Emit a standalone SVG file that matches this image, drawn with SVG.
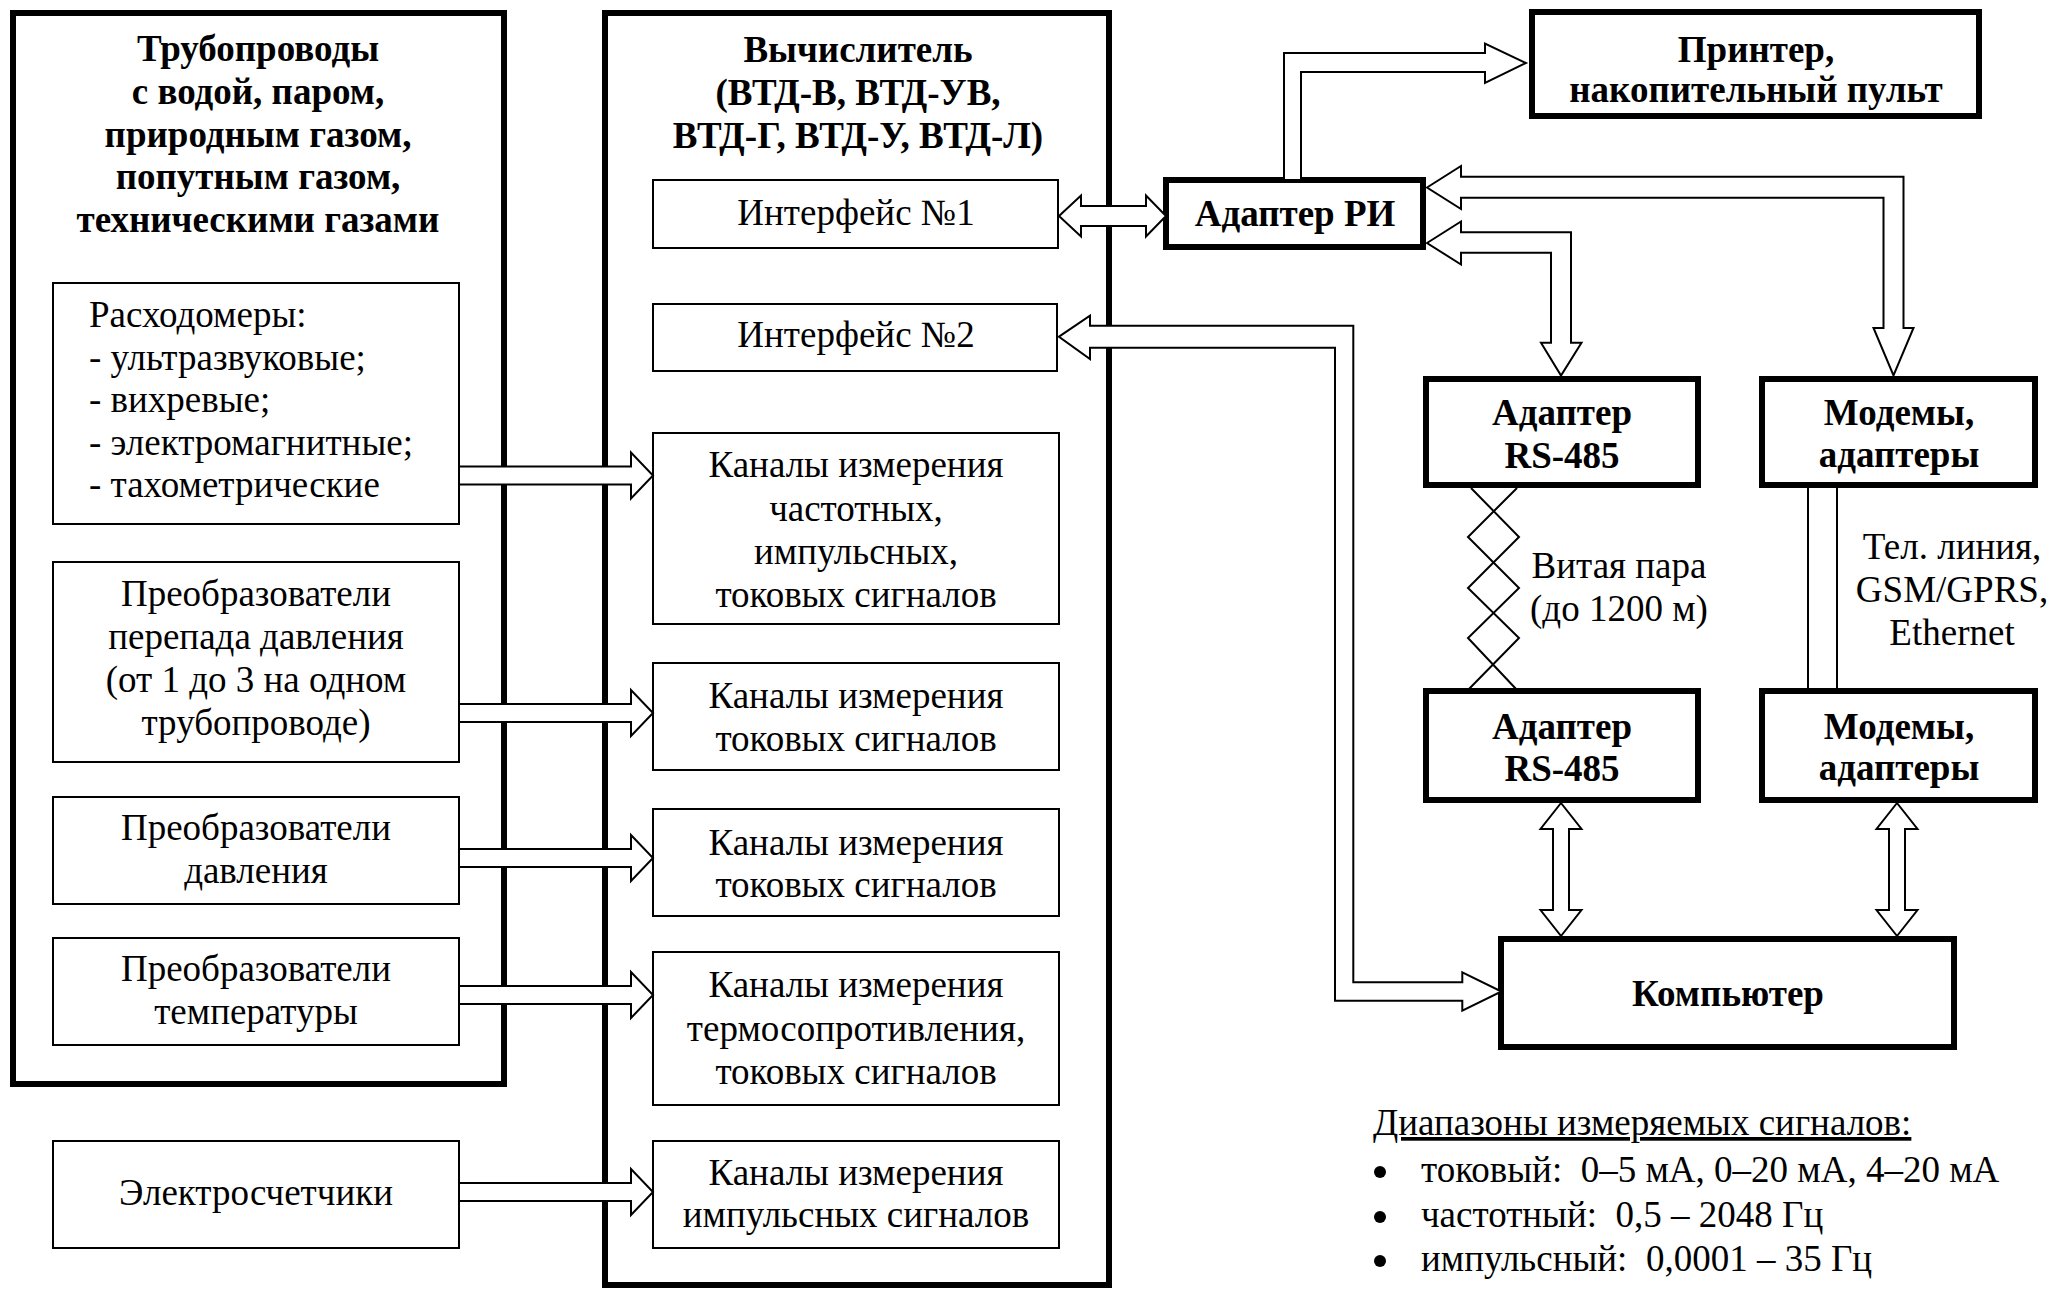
<svg xmlns="http://www.w3.org/2000/svg" width="2054" height="1289" viewBox="0 0 2054 1289">
<style>
.bg{fill:#fff}
.thick{fill:#fff;stroke:#000;stroke-width:6}
.thin{fill:#fff;stroke:#000;stroke-width:2}
.arrow{fill:#fff;stroke:#000;stroke-width:2;stroke-linejoin:miter}
.wire{fill:none;stroke:#000;stroke-width:2}
text{font-family:"Liberation Serif","Times New Roman",serif;font-size:37px;fill:#000}
.b{font-weight:bold}
.c{text-anchor:middle}
.pre{white-space:pre}
</style>
<rect class="bg" x="0" y="0" width="2054" height="1289"/>

<g id="pipelines">
<rect class="thick" x="13" y="13" width="491" height="1071"/>
<text class="b c" x="258" y="61">Трубопроводы</text>
<text class="b c" x="258" y="104">с водой, паром,</text>
<text class="b c" x="258" y="147">природным газом,</text>
<text class="b c" x="258" y="189">попутным газом,</text>
<text class="b c" x="258" y="232">техническими газами</text>
</g>

<g id="calculator">
<rect class="thick" x="605" y="13" width="504" height="1272"/>
<text class="b c" x="858" y="62">Вычислитель</text>
<text class="b c" x="858" y="105">(ВТД-В, ВТД-УВ,</text>
<text class="b c" x="858" y="148">ВТД-Г, ВТД-У, ВТД-Л)</text>
</g>

<g id="flowmeters">
<rect class="thin" x="53" y="283" width="406" height="241"/>
<text x="89" y="327">Расходомеры:</text>
<text x="89" y="370">- ультразвуковые;</text>
<text x="89" y="412">- вихревые;</text>
<text x="89" y="455">- электромагнитные;</text>
<text x="89" y="497">- тахометрические</text>
</g>

<g id="dp-transducers">
<rect class="thin" x="53" y="562" width="406" height="200"/>
<text class="c" x="256" y="606">Преобразователи</text>
<text class="c" x="256" y="649">перепада давления</text>
<text class="c" x="256" y="692">(от 1 до 3 на одном</text>
<text class="c" x="256" y="735">трубопроводе)</text>
</g>

<g id="p-transducers">
<rect class="thin" x="53" y="797" width="406" height="107"/>
<text class="c" x="256" y="840">Преобразователи</text>
<text class="c" x="256" y="883">давления</text>
</g>

<g id="t-transducers">
<rect class="thin" x="53" y="938" width="406" height="107"/>
<text class="c" x="256" y="981">Преобразователи</text>
<text class="c" x="256" y="1024">температуры</text>
</g>

<g id="electricity-meters">
<rect class="thin" x="53" y="1141" width="406" height="107"/>
<text class="c" x="256" y="1205">Электросчетчики</text>
</g>

<g id="interface1">
<rect class="thin" x="653" y="180" width="405" height="68"/>
<text class="c" x="856" y="225">Интерфейс №1</text>
</g>

<g id="interface2">
<rect class="thin" x="653" y="304" width="404" height="67"/>
<text class="c" x="856" y="347">Интерфейс №2</text>
</g>

<g id="ch-freq">
<rect class="thin" x="653" y="433" width="406" height="191"/>
<text class="c" x="856" y="477">Каналы измерения</text>
<text class="c" x="856" y="521">частотных,</text>
<text class="c" x="856" y="564">импульсных,</text>
<text class="c" x="856" y="607">токовых сигналов</text>
</g>

<g id="ch-current1">
<rect class="thin" x="653" y="663" width="406" height="107"/>
<text class="c" x="856" y="708">Каналы измерения</text>
<text class="c" x="856" y="751">токовых сигналов</text>
</g>

<g id="ch-current2">
<rect class="thin" x="653" y="809" width="406" height="107"/>
<text class="c" x="856" y="855">Каналы измерения</text>
<text class="c" x="856" y="897">токовых сигналов</text>
</g>

<g id="ch-rtd">
<rect class="thin" x="653" y="952" width="406" height="153"/>
<text class="c" x="856" y="997">Каналы измерения</text>
<text class="c" x="856" y="1041">термосопротивления,</text>
<text class="c" x="856" y="1084">токовых сигналов</text>
</g>

<g id="ch-pulse">
<rect class="thin" x="653" y="1141" width="406" height="107"/>
<text class="c" x="856" y="1185">Каналы измерения</text>
<text class="c" x="856" y="1227">импульсных сигналов</text>
</g>

<g id="adapter-ri">
<rect class="thick" x="1166" y="180" width="257" height="67"/>
<text class="b c" x="1295" y="226">Адаптер РИ</text>
</g>

<g id="printer">
<rect class="thick" x="1532" y="12" width="447" height="104"/>
<text class="b c" x="1756" y="62">Принтер,</text>
<text class="b c" x="1756" y="102">накопительный пульт</text>
</g>

<g id="rs485-top">
<rect class="thick" x="1426" y="379" width="272" height="106"/>
<text class="b c" x="1562" y="425">Адаптер</text>
<text class="b c" x="1562" y="468">RS-485</text>
</g>

<g id="modems-top">
<rect class="thick" x="1762" y="379" width="273" height="106"/>
<text class="b c" x="1899" y="425">Модемы,</text>
<text class="b c" x="1899" y="467">адаптеры</text>
</g>

<g id="rs485-bottom">
<rect class="thick" x="1426" y="691" width="272" height="109"/>
<text class="b c" x="1562" y="739">Адаптер</text>
<text class="b c" x="1562" y="781">RS-485</text>
</g>

<g id="modems-bottom">
<rect class="thick" x="1762" y="691" width="273" height="109"/>
<text class="b c" x="1899" y="739">Модемы,</text>
<text class="b c" x="1899" y="780">адаптеры</text>
</g>

<g id="computer">
<rect class="thick" x="1501" y="939" width="453" height="108"/>
<text class="b c" x="1728" y="1006">Компьютер</text>
</g>

<g id="connectors">
<polygon class="arrow" points="459,466.5 631,466.5 631,452.5 653,475.5 631,498.5 631,484.5 459,484.5"/>
<polygon class="arrow" points="459,704 631,704 631,690 653,713 631,736 631,722 459,722"/>
<polygon class="arrow" points="459,849 631,849 631,835 653,858 631,881 631,867 459,867"/>
<polygon class="arrow" points="459,986 631,986 631,972 653,995 631,1018 631,1004 459,1004"/>
<polygon class="arrow" points="459,1183 631,1183 631,1169 653,1192 631,1215 631,1201 459,1201"/>
<polygon class="arrow" points="1059,216 1081,195.5 1081,206 1146,206 1146,195.5 1166,216 1146,236.5 1146,226 1081,226 1081,236.5"/>
<polygon class="arrow" points="1284,180 1284,53 1485,53 1485,43.5 1526,63 1485,83 1485,72 1301,72 1301,180"/>
<polygon class="arrow" points="1427,187.5 1461,166 1461,176.7 1903.5,176.7 1903.5,328 1913.5,328 1893.5,375.5 1873.5,328 1883.5,328 1883.5,197.7 1461,197.7 1461,209"/>
<polygon class="arrow" points="1427,243 1461,221.5 1461,232.3 1571,232.3 1571,342.7 1581.5,342.7 1561,375.5 1541,342.7 1551,342.7 1551,252.7 1461,252.7 1461,264.5"/>
<polygon class="arrow" points="1059,336.7 1090,315.7 1090,325.7 1353.3,325.7 1353.3,982.3 1462.3,982.3 1462.3,972.3 1501.5,991.5 1462.3,1010.7 1462.3,1000.7 1335,1000.7 1335,347.7 1090,347.7 1090,359"/>
<polygon class="arrow" points="1561,803 1581.5,829 1569,829 1569,910 1581.5,910 1561,936 1540.5,910 1553,910 1553,829 1540.5,829"/>
<polygon class="arrow" points="1897,803 1917.5,829 1905,829 1905,910 1917.5,910 1897,936 1876.5,910 1889,910 1889,829 1876.5,829"/>
<polyline class="wire" points="1471,488 1519,537 1468,588 1519,638 1468,690"/>
<polyline class="wire" points="1517,488 1468,537 1519,588 1468,638 1517,690"/>
<line class="wire" x1="1808" y1="488" x2="1808" y2="688"/>
<line class="wire" x1="1837" y1="488" x2="1837" y2="688"/>
</g>

<g id="twisted-pair-label">
<text class="c" x="1619" y="578">Витая пара</text>
<text class="c" x="1619" y="621">(до 1200 м)</text>
</g>

<g id="line-label">
<text class="c" x="1952" y="559">Тел. линия,</text>
<text class="c" x="1952" y="602">GSM/GPRS,</text>
<text class="c" x="1952" y="645">Ethernet</text>
</g>

<g id="legend">
<text x="1373" y="1135" text-decoration="underline">Диапазоны измеряемых сигналов:</text>
<circle cx="1380" cy="1172" r="6"/>
<circle cx="1380" cy="1217" r="6"/>
<circle cx="1380" cy="1261" r="6"/>
<text class="pre" x="1421" y="1182">токовый:  0–5 мА, 0–20 мА, 4–20 мА</text>
<text class="pre" x="1421" y="1227">частотный:  0,5 – 2048 Гц</text>
<text class="pre" x="1421" y="1271">импульсный:  0,0001 – 35 Гц</text>
</g>
</svg>
